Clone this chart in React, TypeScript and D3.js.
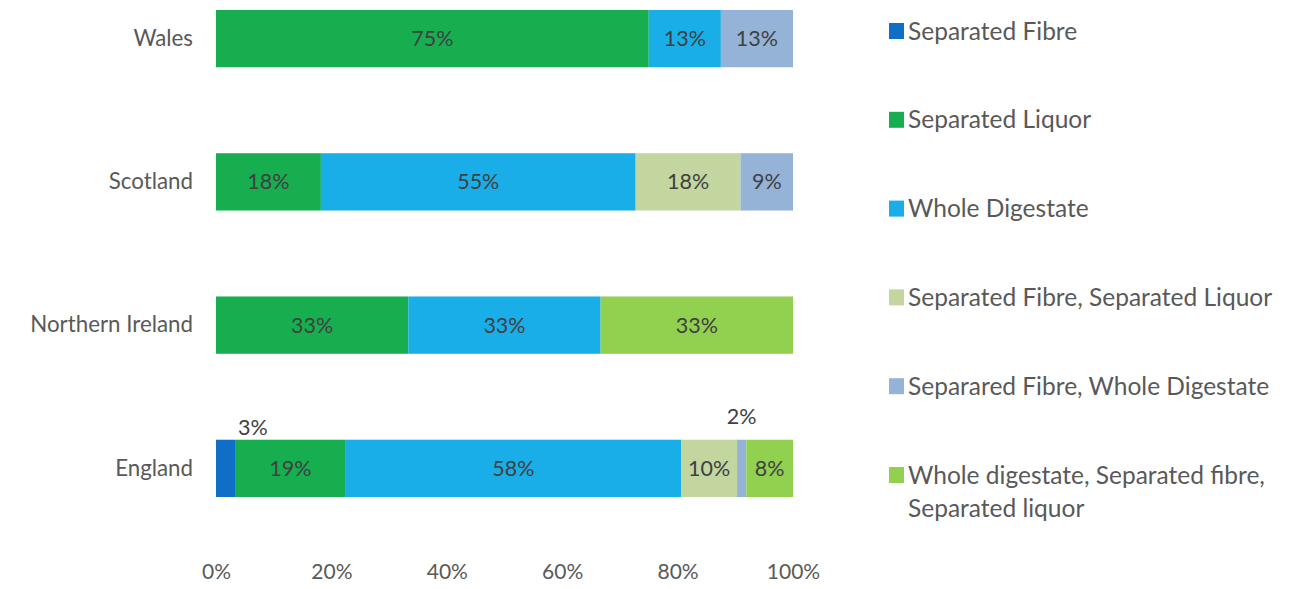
import React, { useEffect, useRef } from 'react';
import * as d3 from 'd3';

const regions = ["Wales", "Scotland", "Northern Ireland", "England"];

const seriesNames = [
  "Separated Fibre",
  "Separated Liquor",
  "Whole Digestate",
  "Separated Fibre, Separated Liquor",
  "Separared Fibre, Whole Digestate",
  "Whole digestate, Separated fibre, Separated liquor",
];

// share of sites per region, one array per series (order follows regions)
const separatedFibre = [0, 0, 0, 3.3];
const separatedLiquor = [75, 18.18, 33.33, 19.2];
const wholeDigestate = [12.5, 54.55, 33.33, 58.1];
const fibreLiquor = [0, 18.18, 0, 9.7];
const fibreDigestate = [12.5, 9.09, 0, 1.6];
const allThree = [0, 0, 33.34, 8.1];

const xTicks = [0, 20, 40, 60, 80, 100];

const colors = ["#0F6FC6", "#17AE50", "#19AEE8", "#C4D6A0", "#95B3D7", "#92D050"];

const FONT = "Lato, 'Open Sans', sans-serif";

const App = () => {
  const ref = useRef<SVGSVGElement>(null);

  useEffect(() => {
    const svg = d3.select(ref.current);
    svg.selectAll("*").remove();

    const seriesValues = [separatedFibre, separatedLiquor, wholeDigestate, fibreLiquor, fibreDigestate, allThree];
    const rows = regions.map((r, i) => {
      const row: any = { region: r };
      seriesNames.forEach((s, j) => { row[s] = seriesValues[j][i]; });
      return row;
    });
    const stacked = d3.stack().keys(seriesNames)(rows);

    const x = d3.scaleLinear().domain([0, 100]).range([216, 793]);
    const y = d3.scaleBand().domain(regions).range([-33, 540]).paddingInner(0.6).paddingOuter(0.3);
    const color = d3.scaleOrdinal<string>().domain(seriesNames).range(colors);

    // bars
    const groups = svg.append("g")
      .selectAll("g")
      .data(stacked)
      .enter()
      .append("g")
      .attr("fill", (d) => color(d.key));

    groups.selectAll("rect")
      .data((d) => d.map((p) => ({ p, region: p.data.region as string })))
      .enter()
      .append("rect")
      .attr("x", (d) => x(d.p[0]))
      .attr("y", (d) => y(d.region)!)
      .attr("width", (d) => x(d.p[1]) - x(d.p[0]))
      .attr("height", y.bandwidth());

    // data labels
    const labels: { x: number; y: number; text: string; anchor: string }[] = [];
    stacked.forEach((s) => {
      s.forEach((p) => {
        const v = p[1] - p[0];
        if (v <= 0) return;
        const region = p.data.region as string;
        const cy = y(region)! + y.bandwidth() / 2;
        const mid = (x(p[0]) + x(p[1])) / 2;
        const text = Math.round(v) + "%";
        if (v < 5) {
          // too narrow: put it above the bar
          if (p[0] === 0) {
            labels.push({ x: x(p[1]) + 3, y: y(region)! - 12, text, anchor: "start" });
          } else {
            labels.push({ x: mid, y: y(region)! - 23, text, anchor: "middle" });
          }
        } else {
          labels.push({ x: mid, y: cy, text, anchor: "middle" });
        }
      });
    });
    svg.append("g")
      .selectAll("text")
      .data(labels)
      .enter()
      .append("text")
      .attr("x", (d) => d.x)
      .attr("y", (d) => d.y)
      .attr("dy", "0.35em")
      .attr("text-anchor", (d) => d.anchor)
      .attr("font-family", FONT)
      .attr("font-size", 21.5)
      .attr("fill", "#404040")
      .text((d) => d.text);

    // category axis
    const yAxis = svg.append("g")
      .attr("transform", "translate(216,0)")
      .call(d3.axisLeft(y).tickSize(0).tickPadding(23));
    yAxis.select(".domain").remove();
    yAxis.selectAll("text")
      .attr("font-family", FONT)
      .attr("font-size", 22.3)
      .attr("fill", "#595959");

    // value axis
    const xAxis = svg.append("g")
      .attr("transform", "translate(0,561)")
      .call(d3.axisBottom(x).tickValues(xTicks).tickSize(0).tickPadding(3).tickFormat((v) => v + "%"));
    xAxis.select(".domain").remove();
    xAxis.selectAll("text")
      .attr("font-family", FONT)
      .attr("font-size", 21)
      .attr("fill", "#595959");

    // legend
    const legendY = d3.scalePoint().domain(seriesNames).range([31, 475]);
    const legend = svg.append("g")
      .selectAll("g")
      .data(seriesNames)
      .enter()
      .append("g")
      .attr("transform", (d) => "translate(889," + legendY(d) + ")");
    legend.append("rect")
      .attr("x", 0)
      .attr("y", -8)
      .attr("width", 15)
      .attr("height", 16)
      .attr("fill", (d) => color(d));
    legend.each(function (d) {
      const g = d3.select(this);
      const lines = d === seriesNames[5]
        ? ["Whole digestate, Separated fibre,", "Separated liquor"]
        : [d];
      lines.forEach((line, i) => {
        g.append("text")
          .attr("x", 19)
          .attr("y", i * 33)
          .attr("dy", "0.35em")
          .attr("font-family", FONT)
          .attr("font-size", 24.5)
          .attr("fill", "#595959")
          .text(line);
      });
    });
  }, []);

  return (
    <svg ref={ref} width="1315" height="589" style={{ position: "absolute", left: 0, top: 0, background: "#fff" }}>
    </svg>
  );
};

export default App;
